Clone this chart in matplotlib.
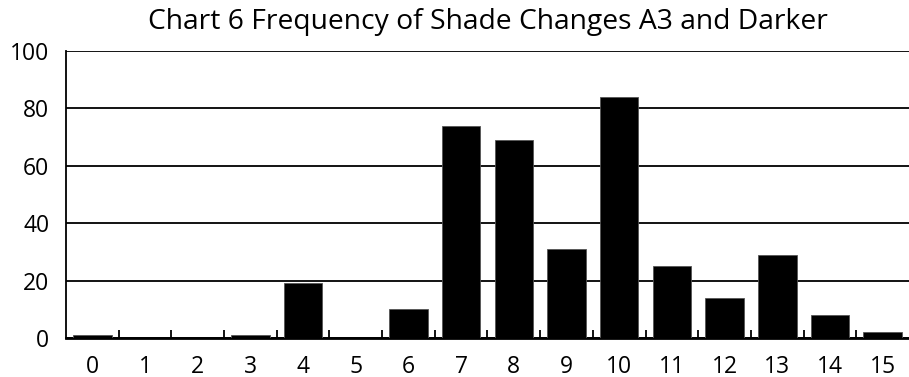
import matplotlib
matplotlib.use("Agg")
import matplotlib.pyplot as plt

plt.rcParams['font.family'] = ['Open Sans', 'DejaVu Sans']

categories = [str(i) for i in range(16)]
counts = [1, 0, 0, 1, 19, 0, 10, 74, 69, 31, 84, 25, 14, 29, 8, 2]
title = "Chart 6 Frequency of Shade Changes A3 and Darker"

fig = plt.figure(figsize=(9.09, 3.77), dpi=100)
ax = fig.add_axes([0.0726, 0.1034, 0.9274, 0.7613])

x = list(range(len(categories)))
ax.bar(x, counts, width=0.73, color='black', edgecolor='#555555', linewidth=0.6, zorder=3)

ax.set_ylim(0, 100)
ax.set_xlim(-0.5, 15.5)
ax.set_yticks([0, 20, 40, 60, 80, 100])
ax.yaxis.grid(True, color='black', linewidth=1.3, zorder=1)
ax.set_axisbelow(True)

ax.set_xticks(x)
ax.set_xticklabels(categories)
ax.set_xticks([i + 0.5 for i in range(15)], minor=True)
ax.tick_params(axis='x', which='major', length=0, labelsize=16.5, pad=12)
ax.tick_params(axis='x', which='minor', direction='in', length=6, width=1.3)
ax.tick_params(axis='y', length=0, labelsize=16.5, pad=12)

for s in ['top', 'right']:
    ax.spines[s].set_visible(False)
ax.spines['left'].set_linewidth(1.3)
ax.spines['bottom'].set_linewidth(2)

fig.suptitle(title, fontsize=20.3, x=0.537, y=0.98, va='top')

fig.savefig("out.png", dpi=100)
